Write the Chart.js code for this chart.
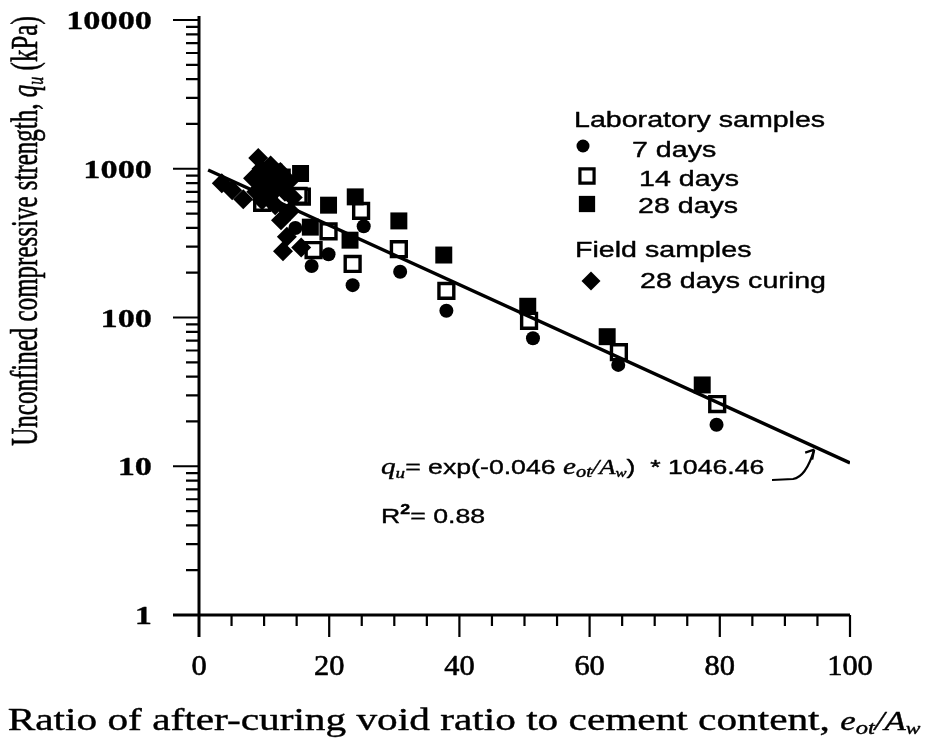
<!DOCTYPE html>
<html>
<head>
<meta charset="utf-8">
<title>Unconfined compressive strength vs e_ot/A_w</title>
<script src="https://cdn.jsdelivr.net/npm/chart.js@4/dist/chart.umd.min.js"></script>
<style>
  html, body { margin: 0; padding: 0; background: #fff; }
</style>
</head>
<body>
<canvas id="qu" width="926" height="744"></canvas>
<script>
// laboratory samples, 7 days curing
const lab7X = [11.0, 13.0, 14.8, 17.3, 19.9, 23.6, 25.3, 30.9, 38.0, 51.3, 64.4, 79.5];
const lab7Y = [700, 560, 400, 222, 266, 165, 411, 203, 111, 72.5, 48, 19];

// laboratory samples, 14 days curing
const lab14X = [9.7, 10.8, 13.0, 15.8, 15.3, 17.6, 19.9, 23.6, 24.9, 30.7, 38.0, 50.7, 64.5, 79.6];
const lab14Y = [590, 830, 630, 650, 657, 284, 380, 229, 521, 288, 151, 95, 58.4, 26.2];

// laboratory samples, 28 days curing
const lab28X = [11.5, 12.8, 15.6, 17.1, 19.9, 23.2, 24.0, 30.7, 37.6, 50.5, 62.7, 77.3];
const lab28Y = [950, 880, 929, 405, 569, 331, 647, 446, 263, 119, 74.3, 35.2];

// field samples, 28 days curing
const fieldX = [3.5, 5.1, 6.8, 8.3, 8.8, 9.1, 9.6, 9.7, 10.2, 10.5, 10.8, 11.0, 11.3, 11.7,
  12.0, 12.5, 12.6, 13.2, 13.5, 13.8, 12.9, 14.0, 14.4, 15.7];
const fieldY = [798, 716, 624, 863, 700, 1180, 1000, 615, 797, 900, 880, 1050, 690, 569,
  780, 950, 450, 700, 349, 820, 279, 520, 640, 296];

// regression q_u = exp(b * e_ot/A_w) * a
const fitA = 1046.46;
const fitB = -0.046;
const fitR2 = 0.88;
const fitRange = [1.4, 100];

const xTickLabels = [0, 20, 40, 60, 80, 100];
const yTickLabels = [1, 10, 100, 1000, 10000];

const toPoints = (xs, ys) => xs.map((x, i) => ({ x, y: ys[i] }));
const fitLine = fitRange.map(x => ({ x, y: fitA * Math.exp(fitB * x) }));

const SERIF = '"Liberation Serif", "Times New Roman", serif';
const SANS = '"Liberation Sans", Arial, sans-serif';

// draw a list of text runs (font / subscript offset) with a stretch;
// a thin outline thickens the glyphs like old print
function drawRuns(ctx, runs, x, y, opts) {
  const o = Object.assign({ sx: 1, sy: 1, align: 'left', rotate: 0, heavy: 0.5 }, opts);
  ctx.save();
  ctx.translate(x, y);
  if (o.rotate) ctx.rotate(o.rotate);
  ctx.scale(o.sx, o.sy);
  let w = 0;
  for (const r of runs) { ctx.font = r.font; w += ctx.measureText(r.t).width; }
  let cx = o.align === 'center' ? -w / 2 : o.align === 'right' ? -w : 0;
  ctx.textAlign = 'left';
  ctx.textBaseline = 'alphabetic';
  ctx.fillStyle = '#000';
  ctx.strokeStyle = '#000';
  ctx.lineWidth = o.heavy;
  ctx.lineJoin = 'round';
  for (const r of runs) {
    ctx.font = r.font;
    ctx.fillText(r.t, cx, r.dy || 0);
    if (o.heavy) ctx.strokeText(r.t, cx, r.dy || 0);
    cx += ctx.measureText(r.t).width;
  }
  ctx.restore();
}

const axesPlugin = {
  id: 'paperAxes',
  afterDraw(chart) {
    const { ctx, scales: { x, y } } = chart;
    const x0 = x.getPixelForValue(0);
    const y0 = y.getPixelForValue(1);
    ctx.save();
    ctx.strokeStyle = '#000';
    ctx.lineCap = 'butt';

    // axis lines
    ctx.lineWidth = 3;
    ctx.beginPath();
    ctx.moveTo(x0, y.getPixelForValue(10000) - 4);
    ctx.lineTo(x0, y0 + 22);
    ctx.moveTo(x0 - 26, y0);
    ctx.lineTo(x.getPixelForValue(100), y0);
    ctx.stroke();

    // log ticks on the y axis
    ctx.lineWidth = 2.2;
    ctx.beginPath();
    for (let d = 0; d < yTickLabels.length; d++) {
      const base = yTickLabels[d];
      const py = y.getPixelForValue(base);
      ctx.moveTo(x0, py);
      ctx.lineTo(x0 - 26, py);
      if (d === yTickLabels.length - 1) break;
      for (let m = 2; m <= 9; m++) {
        const pm = y.getPixelForValue(base * m);
        ctx.moveTo(x0, pm);
        ctx.lineTo(x0 - 13, pm);
      }
    }
    // x ticks every 5, long ones at the labels
    for (let v = 5; v <= 100; v += 5) {
      const px = x.getPixelForValue(v);
      ctx.moveTo(px, y0);
      ctx.lineTo(px, y0 + (v % 20 === 0 ? 22 : 11));
    }
    ctx.stroke();

    // tick labels
    for (const v of yTickLabels) {
      drawRuns(ctx, [{ t: String(v), font: 'bold 26px ' + SERIF }],
        x0 - 47, y.getPixelForValue(v) + 9, { sx: 1.32, align: 'right', heavy: 0.3 });
    }
    for (const v of xTickLabels) {
      drawRuns(ctx, [{ t: String(v), font: '29px ' + SERIF }],
        x.getPixelForValue(v), y0 + 60, { sx: 1.05, align: 'center', heavy: 0.6 });
    }

    // axis titles
    drawRuns(ctx, [
      { t: 'Ratio of after-curing void ratio to cement content, ', font: '32px ' + SERIF },
      { t: 'e', font: 'italic 27px ' + SERIF },
      { t: 'ot', font: 'italic 19px ' + SERIF, dy: 4 },
      { t: '/', font: 'italic 27px ' + SERIF },
      { t: 'A', font: 'italic 27px ' + SERIF },
      { t: 'w', font: 'italic 17px ' + SERIF, dy: 4 }
    ], 464, 730, { sx: 1.29, align: 'center', heavy: 0.4 });

    drawRuns(ctx, [
      { t: 'Unconfined compressive strength, ', font: '25px ' + SERIF },
      { t: 'q', font: 'italic 25px ' + SERIF },
      { t: 'u', font: 'italic 16px ' + SERIF, dy: 4 },
      { t: ' (kPa)', font: '25px ' + SERIF }
    ], 37, 231, { rotate: -Math.PI / 2, sy: 1.5, align: 'center', heavy: 0.4 });

    // legend
    const H = Chart.helpers;
    const leg = (txt, px, py) => drawRuns(ctx, [{ t: txt, font: '22px ' + SANS }], px, py, { sx: 1.3, heavy: 0.4 });
    leg('Laboratory samples', 574, 127);
    leg('7 days', 632, 157);
    leg('14 days', 639, 186);
    leg('28 days', 638, 213);
    leg('Field samples', 575, 257);
    leg('28 days curing', 640, 288);
    ctx.fillStyle = '#000';
    ctx.strokeStyle = '#000';
    H.drawPoint(ctx, { pointStyle: 'circle', radius: 6.5, borderWidth: 0 }, 583, 146);
    ctx.fillStyle = '#fff';
    ctx.lineWidth = 3.2;
    H.drawPoint(ctx, { pointStyle: 'rect', radius: 10, borderWidth: 3.2 }, 587, 176);
    ctx.fillStyle = '#000';
    H.drawPoint(ctx, { pointStyle: 'rect', radius: 11.5, borderWidth: 0 }, 587, 204);
    H.drawPoint(ctx, { pointStyle: 'rectRot', radius: 9.5, borderWidth: 0 }, 591, 281);

    // fitted equation with leader arrow to the line
    const eq = [
      { t: 'q', font: 'italic 23px ' + SERIF },
      { t: 'u', font: 'italic 15px ' + SERIF, dy: 4 },
      { t: '= exp(-0.046 ', font: '21px ' + SANS },
      { t: 'e', font: 'italic 23px ' + SERIF },
      { t: 'ot', font: 'italic 16px ' + SERIF, dy: 3 },
      { t: '/', font: 'italic 21px ' + SERIF },
      { t: 'A', font: 'italic 21px ' + SERIF },
      { t: 'w', font: 'italic 13px ' + SERIF, dy: 3 },
      { t: ')  * 1046.46', font: '21px ' + SANS }
    ];
    drawRuns(ctx, eq, 381, 474, { sx: 1.27, heavy: 0.4 });
    drawRuns(ctx, [
      { t: 'R', font: '21px ' + SANS },
      { t: '2', font: 'bold 14px ' + SANS, dy: -9 },
      { t: '= ' + fitR2.toFixed(2), font: '21px ' + SANS }
    ], 381, 523, { sx: 1.27, heavy: 0.4 });

    const tipX = x.getPixelForValue(94.5);
    const tipY = y.getPixelForValue(fitA * Math.exp(fitB * 94.5)) + 3;
    ctx.strokeStyle = '#000';
    ctx.lineWidth = 2.2;
    ctx.beginPath();
    ctx.moveTo(772, 480);
    ctx.lineTo(793, 479);
    ctx.quadraticCurveTo(806, 477, tipX, tipY);
    ctx.stroke();
    ctx.beginPath();
    ctx.moveTo(tipX, tipY);
    ctx.lineTo(tipX - 9, tipY + 3);
    ctx.moveTo(tipX, tipY);
    ctx.lineTo(tipX - 2, tipY + 10);
    ctx.stroke();
    ctx.restore();
  }
};

const base = { showLine: false, pointBorderColor: '#000', pointHoverRadius: 0 };

new Chart(document.getElementById('qu'), {
  type: 'scatter',
  data: {
    datasets: [
      {
        data: fitLine, showLine: true, borderColor: '#000', borderWidth: 3.4,
        pointRadius: 0, fill: false
      },
      Object.assign({}, base, {
        data: toPoints(fieldX, fieldY), pointStyle: 'rectRot', pointRadius: 10,
        pointBackgroundColor: '#000', pointBorderWidth: 0
      }),
      Object.assign({}, base, {
        data: toPoints(lab28X, lab28Y), pointStyle: 'rect', pointRadius: 12,
        pointBackgroundColor: '#000', pointBorderWidth: 0
      }),
      Object.assign({}, base, {
        data: toPoints(lab14X, lab14Y), pointStyle: 'rect', pointRadius: 10.5,
        pointBackgroundColor: '#fff', pointBorderWidth: 3.4
      }),
      Object.assign({}, base, {
        data: toPoints(lab7X, lab7Y), pointStyle: 'circle', pointRadius: 7,
        pointBackgroundColor: '#000', pointBorderWidth: 0
      })
    ]
  },
  options: {
    responsive: false,
    devicePixelRatio: 1,
    animation: false,
    events: [],
    layout: { padding: { left: 0, top: 20, right: 76, bottom: 0 } },
    plugins: { legend: { display: false }, tooltip: { enabled: false } },
    scales: {
      x: {
        type: 'linear', min: 0, max: 100,
        ticks: { display: false }, grid: { display: false }, border: { display: false },
        afterFit: s => { s.height = 129; }
      },
      y: {
        type: 'logarithmic', min: 1, max: 10000,
        ticks: { display: false }, grid: { display: false }, border: { display: false },
        afterFit: s => { s.width = 199; }
      }
    }
  },
  plugins: [axesPlugin]
});
</script>
</body>
</html>
